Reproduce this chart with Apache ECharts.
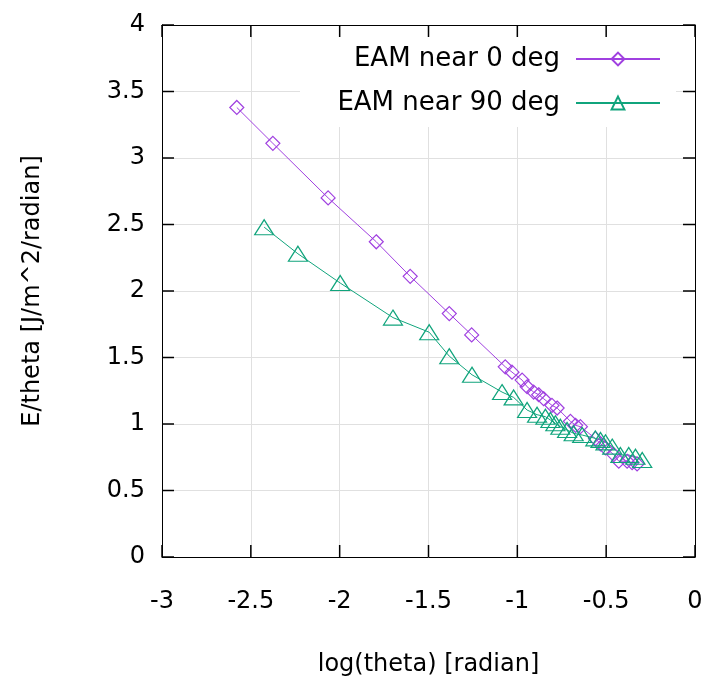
<!DOCTYPE html>
<html>
<head>
<meta charset="utf-8">
<script src="https://cdn.jsdelivr.net/npm/echarts@6/dist/echarts.min.js"></script>
<style>html,body{margin:0;padding:0;background:#fff}#c{width:708px;height:685px}</style>
</head>
<body>
<div id="c"></div>
<script>
// ---- data ----
const seriesNames = ['EAM near 0 deg', 'EAM near 90 deg'];
const xTicks = [-3, -2.5, -2, -1.5, -1, -0.5, 0];
const yTicks = [0, 0.5, 1, 1.5, 2, 2.5, 3, 3.5, 4];
const near0X = [-2.579, -2.376, -2.065, -1.794, -1.603, -1.383, -1.257, -1.068, -1.030, -0.973, -0.945, -0.908, -0.880, -0.852, -0.805, -0.776, -0.701, -0.672, -0.645, -0.560, -0.532, -0.504, -0.457, -0.429, -0.382, -0.354, -0.326];
const near0Y = [3.38, 3.11, 2.70, 2.37, 2.11, 1.83, 1.67, 1.43, 1.39, 1.33, 1.28, 1.24, 1.22, 1.19, 1.14, 1.12, 1.02, 0.99, 0.98, 0.89, 0.85, 0.82, 0.77, 0.72, 0.72, 0.71, 0.70];
const near90X = [-2.425, -2.235, -1.997, -1.700, -1.496, -1.383, -1.255, -1.086, -1.021, -0.945, -0.889, -0.842, -0.814, -0.786, -0.758, -0.720, -0.683, -0.635, -0.561, -0.532, -0.504, -0.466, -0.420, -0.373, -0.335, -0.297];
const near90Y = [2.48, 2.28, 2.06, 1.80, 1.69, 1.51, 1.37, 1.24, 1.20, 1.105, 1.07, 1.055, 1.03, 1.005, 0.98, 0.955, 0.93, 0.917, 0.892, 0.88, 0.862, 0.83, 0.767, 0.767, 0.754, 0.729];
const xName = 'log(theta) [radian]';
const yName = 'E/theta [J/m^2/radian]';

// ---- styling ----
const FONT = 'DejaVu Sans';
const FS = 24;
const PURPLE = '#a040e0';
const GREEN = '#10a47c';
const TICK_LEN = 12;
const zip = (a, b) => a.map((v, i) => [v, b[i]]);

const chart = echarts.init(document.getElementById('c'));
const gridCfg = { left: 162, right: 13, top: 25, bottom: 128 };
const xmin = xTicks[0], xmax = xTicks[xTicks.length - 1];
const ymin = yTicks[0], ymax = yTicks[yTicks.length - 1];
const xint = xTicks[1] - xTicks[0], yint = yTicks[1] - yTicks[0];
const lineStyle = { color: '#000', width: 1 };
const axisLineCfg = { show: true, onZero: false, lineStyle };
const gridLine = { show: true, lineStyle: { color: '#e0e0e0', width: 1 } };
const fmt = v => String(Math.round(v * 10) / 10);

// tick marks (mirrored on all four sides, pointing inward), placed via the axes' scales
const tickData = xTicks.map(v => [v, ymin, 0]).concat(yTicks.map(v => [xmin, v, 1]));
function renderTick(params, api) {
  const kind = api.value(2);
  const st = { stroke: '#000000', lineWidth: 1.5 };
  let a, b, da, db;
  if (kind === 0) {
    const v = api.value(0);
    a = api.coord([v, ymin]); b = api.coord([v, ymax]);
    da = [0, -TICK_LEN]; db = [0, TICK_LEN];
  } else {
    const v = api.value(1);
    a = api.coord([xmin, v]); b = api.coord([xmax, v]);
    da = [TICK_LEN, 0]; db = [-TICK_LEN, 0];
  }
  return { type: 'group', children: [
    { type: 'line', shape: { x1: a[0], y1: a[1], x2: a[0] + da[0], y2: a[1] + da[1] }, style: st },
    { type: 'line', shape: { x1: b[0], y1: b[1], x2: b[0] + db[0], y2: b[1] + db[1] }, style: st }
  ] };
}

const legendCommon = {
  orient: 'horizontal', align: 'right', right: 47, padding: 0,
  itemWidth: 84, itemHeight: 16, zlevel: 2,
  textStyle: { fontFamily: FONT, fontSize: 26, color: '#000', padding: [0, 11, 0, 0] },
  z: 5
};

chart.setOption({
  animation: false,
  backgroundColor: '#fff',
  textStyle: { fontFamily: FONT },
  grid: gridCfg,
  graphic: [{
    type: 'rect', zlevel: 1, z: 0, silent: true,
    shape: { x: 300, y: 26, width: 376, height: 101 },
    style: { fill: '#fff' }
  }],
  legend: [
    Object.assign({}, legendCommon, { data: [seriesNames[0]], top: 46 }),
    Object.assign({}, legendCommon, { data: [seriesNames[1]], top: 90 })
  ],
  xAxis: [{
    type: 'value', position: 'bottom', min: xmin, max: xmax, interval: xint, zlevel: 0,
    axisLine: { show: false, onZero: false }, axisTick: { show: false }, axisLabel: { show: false },
    splitLine: gridLine
  }, {
    type: 'value', position: 'bottom', min: xmin, max: xmax, interval: xint, zlevel: 2,
    axisLine: axisLineCfg, axisTick: { show: false }, splitLine: { show: false },
    axisLabel: { fontFamily: FONT, fontSize: FS, color: '#000', margin: 33, formatter: fmt },
    name: xName, nameLocation: 'middle', nameGap: 96,
    nameTextStyle: { fontFamily: FONT, fontSize: FS, color: '#000' }
  }, {
    type: 'value', position: 'top', min: xmin, max: xmax, interval: xint, zlevel: 2,
    axisLine: axisLineCfg, axisTick: { show: false },
    splitLine: { show: false }, axisLabel: { show: false }
  }],
  yAxis: [{
    type: 'value', position: 'left', min: ymin, max: ymax, interval: yint, zlevel: 0,
    axisLine: { show: false, onZero: false }, axisTick: { show: false }, axisLabel: { show: false },
    splitLine: gridLine
  }, {
    type: 'value', position: 'left', min: ymin, max: ymax, interval: yint, zlevel: 2,
    axisLine: axisLineCfg, axisTick: { show: false }, splitLine: { show: false },
    axisLabel: { fontFamily: FONT, fontSize: FS, color: '#000', margin: 17, formatter: fmt },
    name: yName, nameLocation: 'middle', nameGap: 117, nameRotate: 90,
    nameTextStyle: { fontFamily: FONT, fontSize: FS, color: '#000' }
  }, {
    type: 'value', position: 'right', min: ymin, max: ymax, interval: yint, zlevel: 2,
    axisLine: axisLineCfg, axisTick: { show: false },
    splitLine: { show: false }, axisLabel: { show: false }
  }],
  series: [{
    name: 'ticks', type: 'custom', coordinateSystem: 'cartesian2d', zlevel: 2, z: 10, xAxisIndex: 1, yAxisIndex: 1,
    silent: true, data: tickData, renderItem: renderTick
  }, {
    name: seriesNames[0], type: 'line', zlevel: 2, z: 3, xAxisIndex: 1, yAxisIndex: 1,
    data: zip(near0X, near0Y),
    symbol: 'diamond', symbolSize: [14, 14], showAllSymbol: true,
    lineStyle: { color: PURPLE, width: 1 },
    itemStyle: { color: 'rgba(255,255,255,0)', borderColor: PURPLE, borderWidth: 1.2 }
  }, {
    name: seriesNames[1], type: 'line', zlevel: 2, z: 3, xAxisIndex: 1, yAxisIndex: 1,
    data: zip(near90X, near90Y),
    symbol: 'triangle', symbolSize: [19, 15], showAllSymbol: true,
    lineStyle: { color: GREEN, width: 1 },
    itemStyle: { color: 'rgba(255,255,255,0)', borderColor: GREEN, borderWidth: 1.2 }
  }]
});
</script>
</body>
</html>
